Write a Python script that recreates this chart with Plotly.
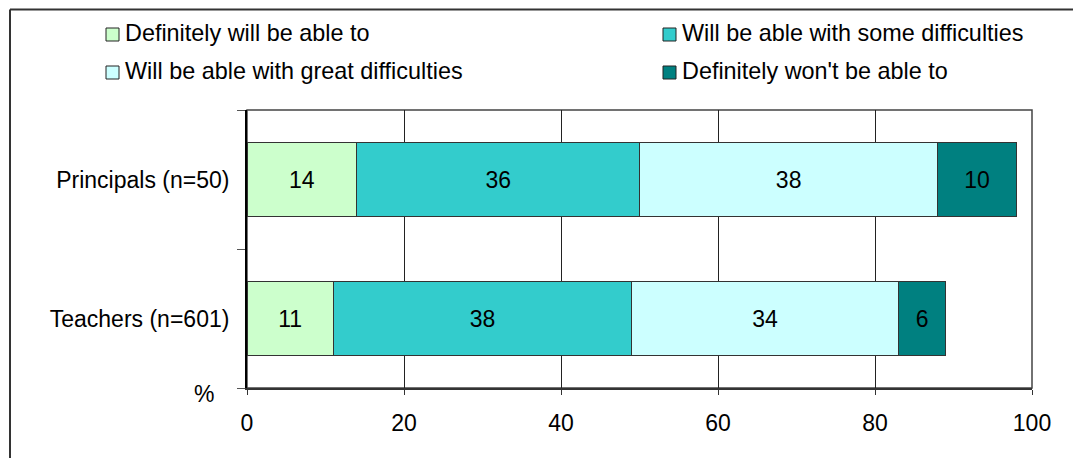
import plotly.graph_objects as go

# Survey results (percent of respondents)
groups = ["Principals (n=50)", "Teachers (n=601)"]
answers = [
    "Definitely will be able to",
    "Will be able with some difficulties",
    "Will be able with great difficulties",
    "Definitely won't be able to",
]
principals = [14, 36, 38, 10]
teachers = [11, 38, 34, 6]
x_ticks = [0, 20, 40, 60, 80, 100]

colors = ["#CCFFCC", "#33CCCC", "#CCFFFF", "#008080"]

W, H = 1073, 458
L, R, T, B = 247, 41, 110, 70
FONT = "Liberation Sans, Arial, sans-serif"


def px_x(px):
    return (px - L) / (W - L - R)


def px_y(py):
    return (H - B - py) / (H - T - B)


fig = go.Figure()
for i, name in enumerate(answers):
    fig.add_trace(go.Bar(
        y=groups,
        x=[principals[i], teachers[i]],
        orientation="h",
        name=name,
        marker=dict(color=colors[i], line=dict(color="#333333", width=1)),
        texttemplate="%{x:.0f}",
        textposition="inside",
        insidetextanchor="middle",
        textangle=0,
        textfont=dict(family=FONT, size=23, color="black"),
        showlegend=False,
    ))

shapes = []
annotations = []

# Legend: two rows, two columns of swatches with labels
legend_pos = [(106, 28), (663, 28), (106, 66), (663, 66)]
for i, name in enumerate(answers):
    sx, sy = legend_pos[i]
    shapes.append(dict(
        type="rect", xref="paper", yref="paper",
        x0=px_x(sx), x1=px_x(sx + 13), y0=px_y(sy), y1=px_y(sy + 13),
        fillcolor=colors[i], line=dict(color="#222222", width=1),
    ))
    annotations.append(dict(
        xref="paper", yref="paper", x=px_x(sx + 17), y=px_y(sy + 5),
        text=name, showarrow=False, xanchor="left", yanchor="middle",
        font=dict(family=FONT, size=23.4, color="black"),
    ))

# Plot area frame
shapes.append(dict(
    type="rect", xref="paper", yref="paper", x0=0, x1=1, y0=0, y1=1,
    line=dict(color="#444444", width=1.5), layer="below",
))
# Outer chart frame
shapes.append(dict(
    type="line", xref="paper", yref="paper",
    x0=px_x(10), x1=px_x(1090), y0=px_y(9.5), y1=px_y(9.5),
    line=dict(color="#333333", width=2),
))
shapes.append(dict(
    type="line", xref="paper", yref="paper",
    x0=px_x(10), x1=px_x(10), y0=px_y(9.5), y1=px_y(480),
    line=dict(color="#333333", width=2),
))

annotations.append(dict(
    xref="paper", yref="paper", x=px_x(204), y=px_y(394),
    text="%", showarrow=False, xanchor="center", yanchor="middle",
    font=dict(family=FONT, size=23, color="black"),
))

fig.update_layout(
    width=W, height=H, autosize=False,
    margin=dict(l=L, r=R, t=T, b=B, pad=0),
    paper_bgcolor="white", plot_bgcolor="white",
    barmode="stack", bargap=0.47,
    font=dict(family=FONT, size=23, color="black"),
    shapes=shapes, annotations=annotations,
    showlegend=False,
)

fig.update_xaxes(
    range=[0, 100], tickvals=x_ticks, ticktext=[str(v) for v in x_ticks],
    showgrid=True, gridcolor="#222222", gridwidth=1,
    showline=True, linecolor="#333333", linewidth=2,
    ticks="outside", ticklen=5, tickcolor="#333333", tickwidth=1,
    ticklabelstandoff=8, zeroline=False,
    tickfont=dict(family=FONT, size=23, color="black"),
)
fig.update_yaxes(
    categoryorder="array", categoryarray=groups[::-1],
    tickson="boundaries", showgrid=False,
    showline=True, linecolor="black", linewidth=2,
    ticks="outside", ticklen=8, tickcolor="#555555", tickwidth=1,
    ticklabelstandoff=11,
    tickfont=dict(family=FONT, size=23, color="black"),
)

fig.write_html("out.html")
